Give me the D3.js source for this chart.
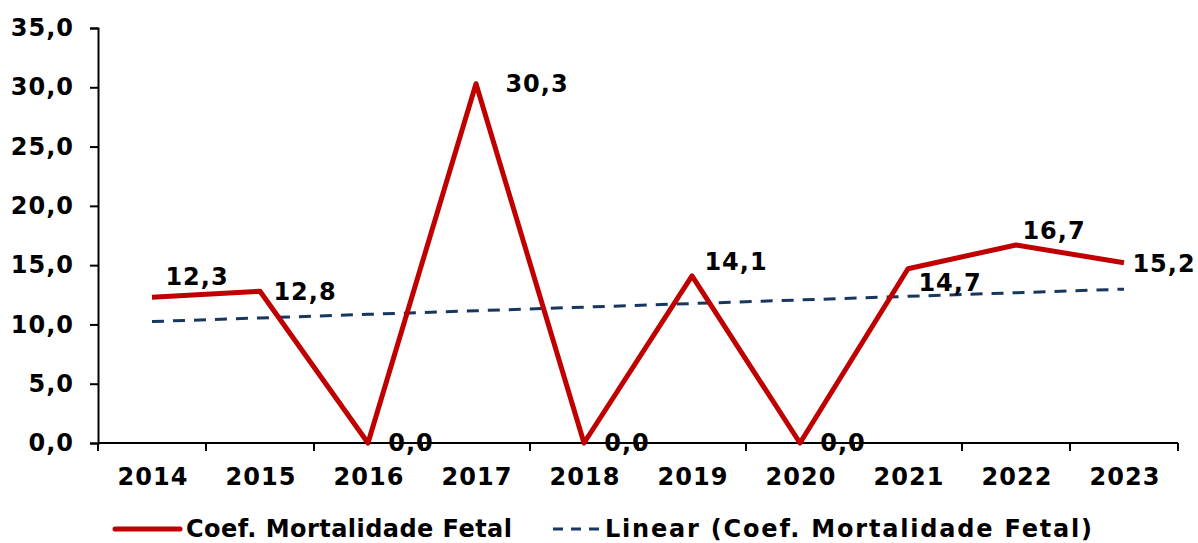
<!DOCTYPE html>
<html lang="pt">
<head>
<meta charset="UTF-8">
<title>Coef. Mortalidade Fetal</title>
<script src="https://d3js.org/d3.v7.min.js"></script>
<style>
  body { margin: 0; background: #fff; }
  svg text { font-family: "DejaVu Sans", Verdana, sans-serif; font-weight: bold; fill: #000; }
</style>
</head>
<body>
<div id="chart"></div>
<script>
// data
const years = ["2014", "2015", "2016", "2017", "2018", "2019", "2020", "2021", "2022", "2023"];
const values = [12.3, 12.8, 0.0, 30.3, 0.0, 14.1, 0.0, 14.7, 16.7, 15.2];
const yTicks = [0, 5, 10, 15, 20, 25, 30, 35];
// label placement per point (dx, dy in px)
const labelPos = [[45, -20], [45, 1], [43, 0], [61, 0], [43, 0], [44, -14], [43, 0], [42, 14], [38, -14], [40, 1]];

const W = 1198, H = 543;

const svg = d3.select("#chart").append("svg")
    .attr("width", W).attr("height", H);

const x = d3.scaleBand().domain(years).range([98, 1178]);
const y = d3.scaleLinear().domain([0, 35]).range([443, 28]);
const fmt = v => d3.format(".1f")(v).replace(".", ",");

// Y axis
const yAxis = svg.append("g")
    .attr("transform", "translate(98,0)")
    .call(d3.axisLeft(y).tickValues(yTicks).tickFormat(fmt).tickSize(8).tickPadding(16));
yAxis.select(".domain").attr("stroke", "#000").attr("stroke-width", 2);
yAxis.selectAll(".tick line").attr("stroke", "#000").attr("stroke-width", 2);
yAxis.selectAll(".tick text").style("font-size", "24px").style("letter-spacing", "1px").attr("fill", "#000");

// X axis (ticks between categories)
const xAxis = svg.append("g").attr("transform", "translate(0,443)");
xAxis.append("line").attr("x1", 98).attr("x2", 1178).attr("stroke", "#000").attr("stroke-width", 2);
const bounds = years.map(d => x(d)).concat([x(years[years.length - 1]) + x.bandwidth()]);
xAxis.selectAll(".xt").data(bounds).join("line")
    .attr("x1", d => d).attr("x2", d => d).attr("y1", 0).attr("y2", 8)
    .attr("stroke", "#000").attr("stroke-width", 2);
xAxis.selectAll(".xl").data(years).join("text")
    .attr("x", d => x(d) + x.bandwidth() / 2 + 1)
    .attr("y", 42)
    .attr("text-anchor", "middle")
    .style("font-size", "24px")
    .style("letter-spacing", "1px")
    .text(d => d);

const cx = d => x(d) + x.bandwidth() / 2;

// linear trendline (least squares over the series)
const n = values.length;
const xm = (n + 1) / 2, ym = d3.mean(values);
let sxy = 0, sxx = 0;
values.forEach((v, i) => { sxy += (i + 1 - xm) * (v - ym); sxx += (i + 1 - xm) ** 2; });
const slope = sxy / sxx, icpt = ym - slope * xm;
const trend = years.map((d, i) => icpt + slope * (i + 1));

svg.append("path")
    .datum(trend)
    .attr("fill", "none")
    .attr("stroke", "#17375E")
    .attr("stroke-width", 3)
    .attr("stroke-dasharray", "12,9")
    .attr("d", d3.line().x((d, i) => cx(years[i])).y(d => y(d)));

// main series
svg.append("path")
    .datum(values)
    .attr("fill", "none")
    .attr("stroke", "#C00000")
    .attr("stroke-width", 5)
    .attr("stroke-linejoin", "round")
    .attr("d", d3.line().x((d, i) => cx(years[i])).y(d => y(d)));

// data labels
svg.selectAll(".dl").data(values).join("text")
    .attr("x", (d, i) => cx(years[i]) + labelPos[i][0])
    .attr("y", (d, i) => y(d) + labelPos[i][1])
    .attr("text-anchor", "middle")
    .attr("dominant-baseline", "central")
    .style("font-size", "24px")
    .style("letter-spacing", "1px")
    .text(d => fmt(d));

// legend
const lg = svg.append("g").attr("transform", "translate(0,529)");
lg.append("line").attr("x1", 115).attr("x2", 180).attr("stroke", "#C00000").attr("stroke-width", 5).attr("stroke-linecap", "round");
lg.append("text").attr("x", 186).attr("y", 0).attr("dominant-baseline", "central")
    .attr("textLength", 326).attr("lengthAdjust", "spacing")
    .style("font-size", "24px").text("Coef. Mortalidade Fetal");
lg.append("line").attr("x1", 553).attr("x2", 601).attr("stroke", "#17375E").attr("stroke-width", 3).attr("stroke-dasharray", "10,8");
lg.append("text").attr("x", 605).attr("y", 0).attr("dominant-baseline", "central")
    .attr("textLength", 487).attr("lengthAdjust", "spacing")
    .style("font-size", "24px").text("Linear (Coef. Mortalidade Fetal)");
</script>
</body>
</html>
